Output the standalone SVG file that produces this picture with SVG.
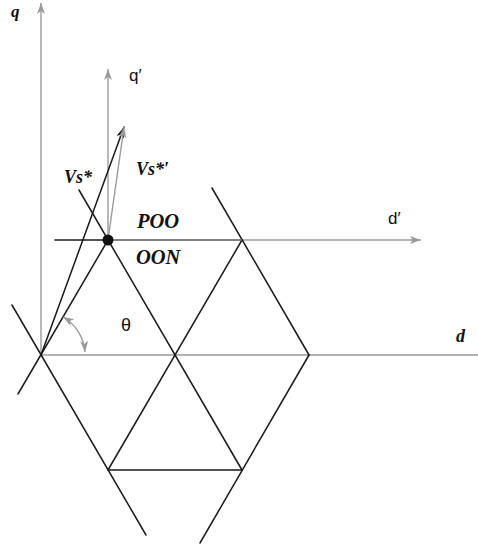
<svg xmlns="http://www.w3.org/2000/svg" width="478" height="546" viewBox="0 0 478 546">
<style>
.hex{stroke:#1a1a1a;stroke-width:1.5;fill:none;stroke-linecap:round}
.ax{stroke:#9a9a9a;stroke-width:1.4;fill:none}
.lbl{font-family:"Liberation Serif",serif;font-weight:bold;font-style:italic;fill:#111}
.sans{font-family:"Liberation Sans",Arial,sans-serif;fill:#111}
</style>
<defs>
<marker id="ag" markerUnits="userSpaceOnUse" markerWidth="12" markerHeight="8" refX="11" refY="4" orient="auto-start-reverse">
<path d="M0,0 L11,4 L0,8 L3,4 z" fill="#9a9a9a"/>
</marker>
<marker id="ab" markerUnits="userSpaceOnUse" markerWidth="12" markerHeight="8" refX="11" refY="4" orient="auto">
<path d="M0,0 L11,4 L0,8 L3,4 z" fill="#1a1a1a"/>
</marker>
</defs>
<g id="axes">
<line class="ax" x1="41" y1="355" x2="41" y2="3" marker-end="url(#ag)"/>
<line class="ax" x1="41" y1="355" x2="478" y2="355"/>
<line class="ax" x1="108" y1="240" x2="108" y2="69" marker-end="url(#ag)"/>
<line class="ax" x1="108" y1="240" x2="421" y2="240" marker-end="url(#ag)"/>
</g>
<g id="hexagon">
<line class="hex" x1="12" y1="305" x2="146" y2="535"/>
<line class="hex" x1="18" y1="394" x2="108" y2="240"/>
<line class="hex" x1="79" y1="190" x2="242" y2="470"/>
<line class="hex" x1="242" y1="240" x2="108" y2="470"/>
<line class="hex" x1="212" y1="188" x2="309" y2="355"/>
<line class="hex" x1="309" y1="355" x2="200" y2="543"/>
<line class="hex" x1="108" y1="470" x2="242" y2="470"/>
<line class="hex" x1="55" y1="240" x2="108" y2="240"/>
<line x1="108" y1="240" x2="242" y2="240" stroke="#707070" stroke-width="1.5"/>
</g>
<g id="connectors">
<line class="hex" x1="41" y1="355" x2="124" y2="127" marker-end="url(#ab)"/>
<line class="ax" x1="108" y1="240" x2="124" y2="127" marker-end="url(#ag)"/>
<path class="ax" d="M63,317 A44,44 0 0 1 85,352" marker-start="url(#ag)" marker-end="url(#ag)"/>
</g>
<g id="node-dot">
<circle cx="108" cy="240" r="5.5" fill="#111"/>
</g>
<g id="labels">
<text class="lbl" x="11" y="17" font-size="17">q</text>
<text class="sans" x="129" y="81" font-size="17">q′</text>
<text class="lbl" x="64" y="183" font-size="18">Vs*</text>
<text class="lbl" x="136" y="175" font-size="18">Vs*′</text>
<text class="lbl" x="137" y="228" font-size="20.5">POO</text>
<text class="lbl" x="136" y="264" font-size="20.5">OON</text>
<text class="sans" x="388" y="224" font-size="17">d′</text>
<text class="sans" x="121" y="331" font-size="18">θ</text>
<text class="lbl" x="456" y="342" font-size="18">d</text>
</g>
</svg>
